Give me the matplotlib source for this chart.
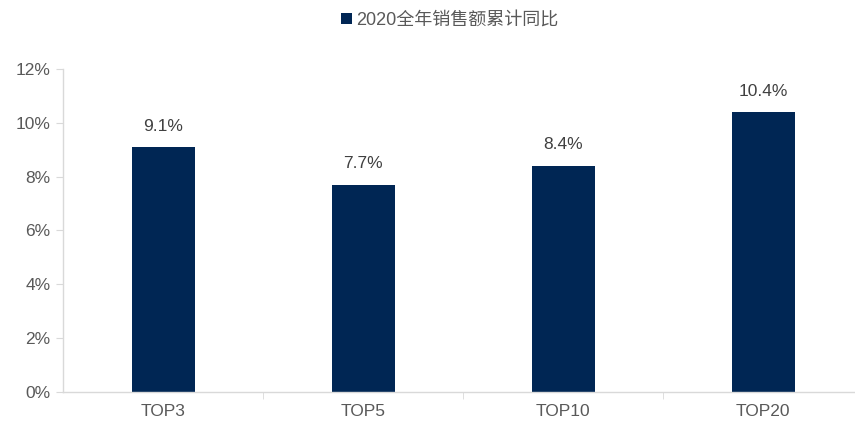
import matplotlib
matplotlib.use('Agg')
import matplotlib.pyplot as plt
from matplotlib.patches import Patch
from matplotlib.ticker import FuncFormatter, FixedLocator

plt.rcParams['font.family'] = ['Liberation Sans', 'Noto Sans CJK SC', 'DejaVu Sans']

categories = ['TOP3', 'TOP5', 'TOP10', 'TOP20']
values = [9.1, 7.7, 8.4, 10.4]
series_name = '2020全年销售额累计同比'

BAR_COLOR = '#002654'
TEXT_COLOR = '#595959'
AXIS_COLOR = '#d9d9d9'

fig = plt.figure(figsize=(8.55, 4.22), dpi=100)
ax = fig.add_axes([0.0737, 0.0711, 0.9357, 0.7654])

x = range(len(categories))
ax.bar(x, values, width=0.315, color=BAR_COLOR, zorder=2)

for xi, v in zip(x, values):
    ax.text(xi, v + 0.5, f'{v:.1f}%', ha='center', va='bottom', fontsize=12.5, color='#404040')

ax.set_xlim(-0.5, len(categories) - 0.5)
ax.set_ylim(0, 12)
ax.set_yticks(range(0, 13, 2))
ax.yaxis.set_major_formatter(FuncFormatter(lambda v, p: f'{v:.0f}%'))
ax.set_xticks(list(x))
ax.set_xticklabels(categories)
ax.xaxis.set_minor_locator(FixedLocator([0.5, 1.5, 2.5]))

for s in ['top', 'right']:
    ax.spines[s].set_visible(False)
for s in ['left', 'bottom']:
    ax.spines[s].set_color(AXIS_COLOR)
    ax.spines[s].set_linewidth(1.0)

ax.tick_params(axis='y', colors=AXIS_COLOR, labelcolor=TEXT_COLOR, labelsize=12.5, length=5, pad=4)
ax.tick_params(axis='x', which='major', length=0, labelcolor=TEXT_COLOR, labelsize=12.5, pad=9)
ax.tick_params(axis='x', which='minor', colors=AXIS_COLOR, length=5)

handle = Patch(facecolor=BAR_COLOR, edgecolor='none')
fig.legend([handle], [series_name], loc='center', bbox_to_anchor=(0.526, 0.952),
           frameon=False, fontsize=13, handlelength=0.6, handleheight=0.6,
           handletextpad=0.2, labelcolor=TEXT_COLOR)

fig.savefig('out.png', dpi=100)
